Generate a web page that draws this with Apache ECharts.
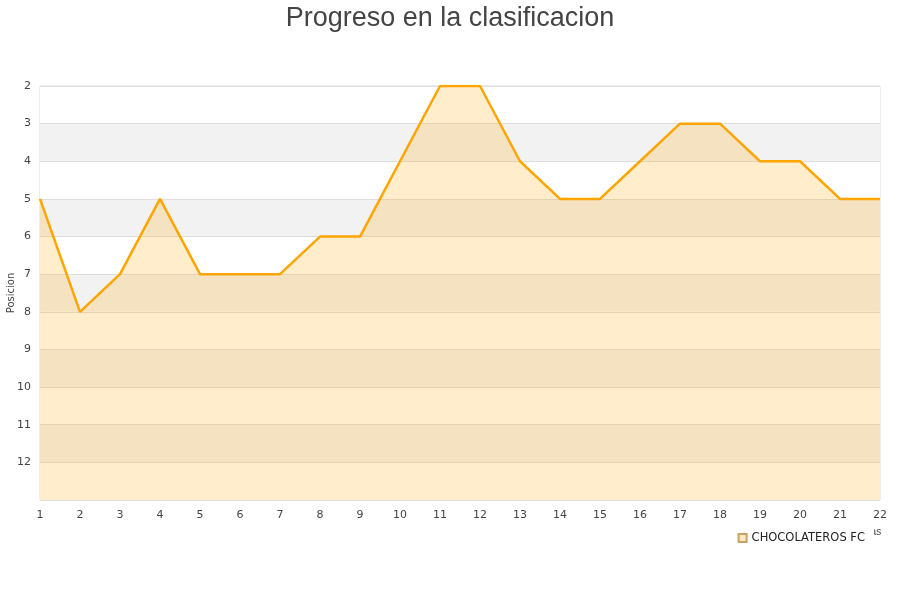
<!DOCTYPE html>
<html><head><meta charset="utf-8">
<script src="https://cdn.jsdelivr.net/npm/echarts@6/dist/echarts.min.js"></script>
<style>html,body{margin:0;padding:0;background:#fff}#c{width:900px;height:600px}</style>
</head><body><div id="c"></div>
<script>
var jornadas = ['1','2','3','4','5','6','7','8','9','10','11','12','13','14','15','16','17','18','19','20','21','22'];
var posiciones = [5,8,7,5,7,7,7,6,6,4,2,2,4,5,5,4,3,3,4,4,5,5];
var equipo = 'CHOCOLATEROS FC';
var titulo = 'Progreso en la clasificacion';

var chart = echarts.init(document.getElementById('c'), null, {renderer:'canvas'});
chart.setOption({
  animation: false,
  backgroundColor: '#fff',
  title: {text: titulo, left: 'center', top: 0,
    textStyle: {fontFamily: 'Liberation Sans, Arial, sans-serif', fontSize: 27, fontWeight: 'normal', color: '#444'}},
  grid: {left: 40, right: 20, top: 86, bottom: 100, show: true, borderColor: '#dcdcdc', borderWidth: 1,
    containLabel: false, outerBoundsMode: 'none'},
  legend: {data: [{name: equipo, icon: 'rect'}], right: 26, top: 526, itemWidth: 8, itemHeight: 8, itemGap: 12,
    backgroundColor: '#fff', padding: [6, 9, 7, 8], z: 10,
    textStyle: {fontFamily: 'DejaVu Sans, sans-serif', fontSize: 11.5, color: '#222'}},
  xAxis: {type: 'category', data: jornadas, boundaryGap: false,
    name: 'Jornadas', nameLocation: 'end', nameGap: -40, nameMoveOverlap: false,
    nameTextStyle: {fontSize: 10, color: '#444', verticalAlign: 'top', padding: [27, 0, 0, 0]},
    axisLine: {show: false}, axisTick: {show: false},
    axisLabel: {color: '#444', fontSize: 11, fontFamily: 'DejaVu Sans, sans-serif', margin: 10},
    splitLine: {show: false}},
  yAxis: {type: 'value', inverse: true, min: 2, max: 13, interval: 1,
    name: 'Posicion', nameLocation: 'middle', nameGap: 24, nameRotate: 90, nameMoveOverlap: false,
    nameTextStyle: {fontSize: 10, color: '#444', fontFamily: 'DejaVu Sans, sans-serif'},
    axisLine: {show: false}, axisTick: {show: false},
    axisLabel: {color: '#444', fontSize: 11, fontFamily: 'DejaVu Sans, sans-serif', margin: 9,
      formatter: function(v){ return v === 13 ? '' : String(v); }},
    splitLine: {show: true, lineStyle: {color: '#dedede', width: 1}},
    splitArea: {show: true, areaStyle: {color: ['#ffffff', '#f2f2f2']}}},
  series: [{
    name: equipo, type: 'line', data: posiciones, symbol: 'none',
    lineStyle: {color: '#ffa500', width: 2.5},
    itemStyle: {color: '#ffe9c2', borderColor: '#c8a060', borderWidth: 1},
    areaStyle: {color: 'rgba(255,165,0,0.2)', opacity: 1, origin: 'end'}
  }]
});
</script></body></html>
